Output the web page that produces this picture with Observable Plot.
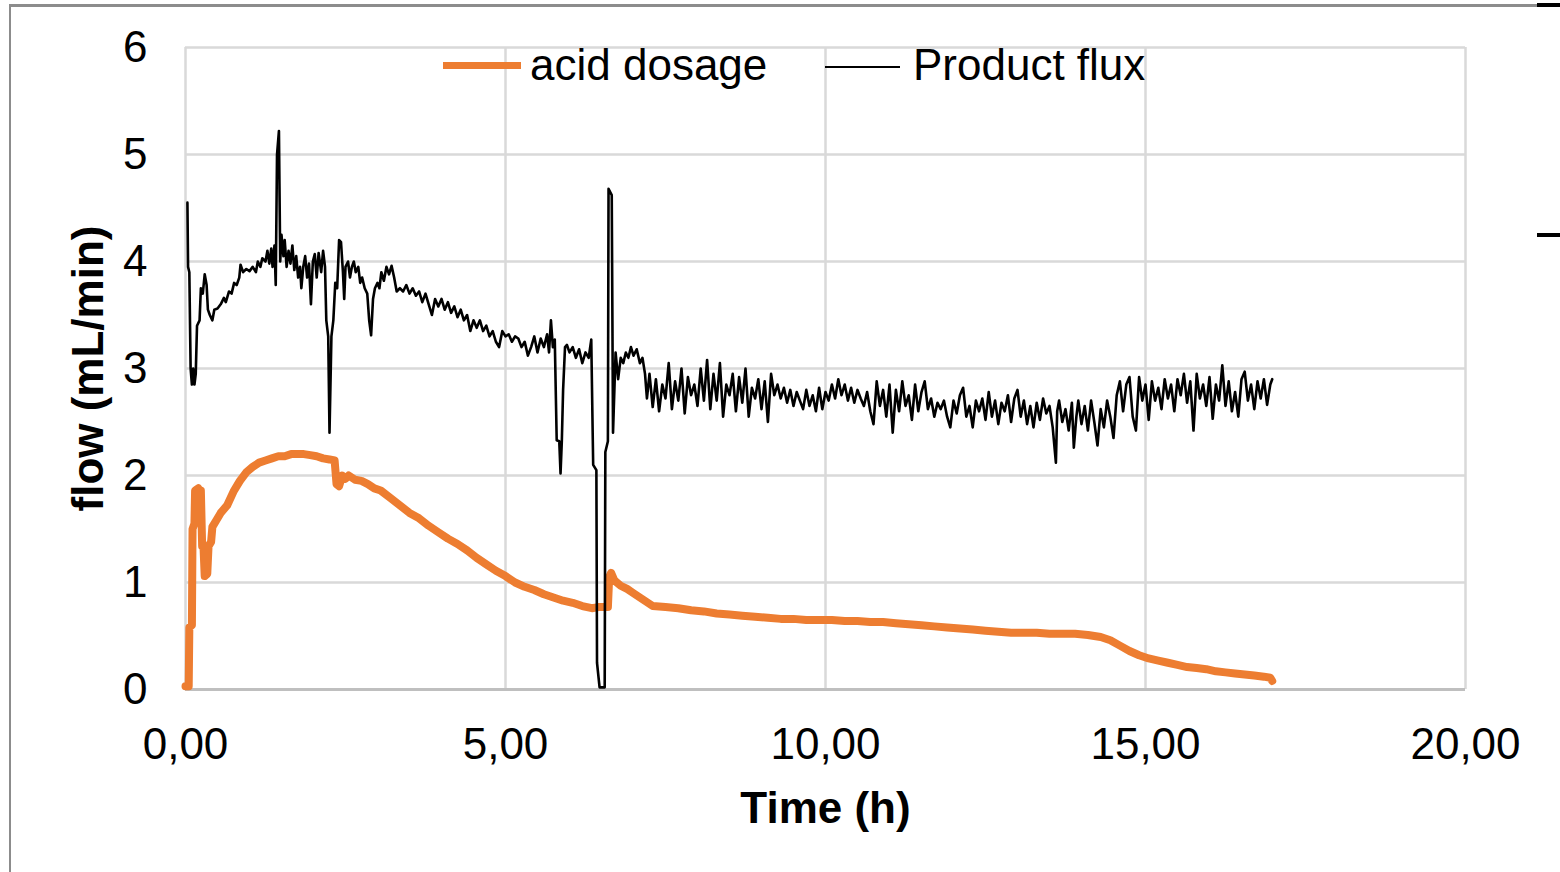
<!DOCTYPE html>
<html>
<head>
<meta charset="utf-8">
<script src="https://cdn.jsdelivr.net/npm/d3@7"></script>
<script src="https://cdn.jsdelivr.net/npm/@observablehq/plot@0.6"></script>
<style>
  html, body { margin: 0; padding: 0; background: #fff; }
  #wrap { position: relative; width: 1560px; height: 872px; overflow: hidden; background: #fff;
          font-family: "Liberation Sans", Arial, sans-serif; }
  #chart { position: absolute; left: 0; top: 0; }
  .frameTop { position: absolute; left: 9px; top: 4px; width: 1528px; height: 3px; background: #8c8c8c; }
  .frameLeft { position: absolute; left: 9px; top: 4px; width: 2px; height: 868px; background: #8c8c8c; }
  .blk { position: absolute; left: 1537px; width: 23px; height: 4px; background: #000; }
  .legend { position: absolute; top: 0; left: 0; font-size: 44px; line-height: 44px; color: #000; white-space: nowrap; }
  .sw { position: absolute; }
  .lt { position: absolute; }
</style>
</head>
<body>
<div id="wrap">
  <div id="chart"></div>
  <div class="frameTop"></div>
  <div class="frameLeft"></div>
  <div class="blk" style="top:3px"></div>
  <div class="blk" style="top:233px"></div>
  <div class="legend" id="legend"></div>
</div>
<script>
// ---- data ----
const seriesNames = ["acid dosage", "Product flux"];
const seriesColors = ["#ed7d31", "#000000"];
const xTicks = [0, 5, 10, 15, 20];
const yTicks = [0, 1, 2, 3, 4, 5, 6];

const acidTime = [0.0,0.05,0.06,0.1,0.11,0.14,0.15,0.2,0.22,0.24,0.26,0.28,0.3,0.34,0.36,0.4,0.42,0.48,0.55,0.65,0.75,0.85,0.95,1.05,1.15,1.25,1.35,1.45,1.55,1.65,1.75,1.85,1.95,2.05,2.15,2.25,2.33,2.36,2.4,2.45,2.5,2.55,2.65,2.75,2.85,2.95,3.05,3.2,3.35,3.5,3.65,3.8,3.95,4.1,4.25,4.4,4.55,4.7,4.85,5.0,5.15,5.3,5.45,5.6,5.75,5.9,6.05,6.2,6.35,6.45,6.6,6.62,6.65,6.7,6.8,6.9,7.0,7.1,7.2,7.3,7.5,7.7,7.9,8.1,8.3,8.5,8.7,8.9,9.1,9.3,9.5,9.7,9.9,10.1,10.3,10.5,10.7,10.9,11.1,11.3,11.5,11.7,11.9,12.1,12.3,12.5,12.7,12.9,13.1,13.3,13.5,13.7,13.9,14.1,14.3,14.45,14.6,14.75,14.9,15.05,15.2,15.35,15.5,15.65,15.8,15.95,16.1,16.25,16.4,16.55,16.7,16.85,16.95,16.98];
const acidValue = [0.03,0.03,0.58,0.6,1.5,1.55,1.86,1.88,1.75,1.86,1.34,1.35,1.06,1.08,1.34,1.38,1.52,1.58,1.65,1.72,1.85,1.95,2.03,2.08,2.12,2.14,2.16,2.18,2.18,2.2,2.2,2.2,2.19,2.18,2.16,2.15,2.14,1.92,1.9,2.0,1.97,2.0,1.96,1.95,1.92,1.88,1.86,1.79,1.72,1.65,1.6,1.53,1.47,1.41,1.36,1.3,1.23,1.17,1.11,1.06,1.0,0.96,0.93,0.89,0.86,0.83,0.81,0.78,0.76,0.77,0.77,1.05,1.09,1.02,0.97,0.94,0.9,0.86,0.82,0.78,0.77,0.76,0.74,0.73,0.71,0.7,0.69,0.68,0.67,0.66,0.66,0.65,0.65,0.65,0.64,0.64,0.63,0.63,0.62,0.61,0.6,0.59,0.58,0.57,0.56,0.55,0.54,0.53,0.53,0.53,0.52,0.52,0.52,0.51,0.49,0.46,0.41,0.36,0.32,0.29,0.27,0.25,0.23,0.21,0.2,0.19,0.17,0.16,0.15,0.14,0.13,0.12,0.11,0.08];

const fluxTime = [0.03,0.04,0.06,0.08,0.1,0.12,0.14,0.16,0.18,0.22,0.24,0.27,0.3,0.33,0.35,0.38,0.42,0.45,0.5,0.55,0.6,0.63,0.68,0.72,0.76,0.8,0.84,0.86,0.9,0.95,1.0,1.05,1.1,1.13,1.17,1.2,1.25,1.28,1.31,1.34,1.36,1.39,1.41,1.43,1.46,1.48,1.5,1.53,1.55,1.58,1.61,1.64,1.67,1.7,1.73,1.76,1.79,1.81,1.84,1.87,1.9,1.93,1.96,1.99,2.02,2.05,2.08,2.12,2.15,2.18,2.2,2.23,2.25,2.28,2.31,2.34,2.37,2.4,2.43,2.46,2.48,2.5,2.54,2.57,2.6,2.63,2.66,2.7,2.73,2.76,2.8,2.84,2.87,2.9,2.93,2.96,3.0,3.03,3.06,3.1,3.14,3.18,3.22,3.26,3.3,3.35,3.4,3.45,3.5,3.55,3.6,3.65,3.7,3.75,3.8,3.85,3.9,3.95,4.0,4.05,4.1,4.15,4.2,4.25,4.3,4.35,4.4,4.45,4.5,4.55,4.6,4.65,4.7,4.75,4.8,4.85,4.9,4.95,5.0,5.05,5.1,5.15,5.2,5.25,5.3,5.35,5.4,5.45,5.5,5.55,5.6,5.65,5.68,5.71,5.74,5.77,5.8,5.84,5.86,5.88,5.9,5.93,5.96,6.0,6.05,6.1,6.15,6.2,6.25,6.3,6.34,6.37,6.42,6.43,6.47,6.55,6.56,6.6,6.61,6.66,6.68,6.72,6.76,6.8,6.84,6.88,6.92,6.96,7.0,7.05,7.1,7.14,7.18,7.21,
7.25,7.3,7.35,7.4,7.45,7.5,7.55,7.6,7.65,7.7,7.75,7.8,7.85,7.9,7.95,8.0,8.05,8.1,8.15,8.2,8.25,8.3,8.35,8.4,8.45,8.5,8.55,8.6,8.65,8.7,8.75,8.8,8.85,8.9,8.95,9.0,9.05,9.1,9.15,9.2,9.25,9.3,9.35,9.4,9.45,9.5,9.55,9.6,9.65,9.7,9.75,9.8,9.85,9.9,9.95,10.0,10.05,10.1,10.15,10.2,10.25,10.3,10.35,10.4,10.45,10.5,10.55,10.6,10.65,10.7,10.75,10.8,10.85,10.9,10.95,11.0,11.05,11.1,11.15,11.2,11.25,11.3,11.35,11.4,11.45,11.5,11.55,11.6,11.65,11.7,11.75,11.8,11.85,11.9,11.95,12.0,12.05,12.1,12.15,12.2,12.25,12.3,12.35,12.4,12.45,12.5,12.55,12.6,12.65,12.7,12.75,12.8,12.85,12.9,12.95,13.0,13.05,13.1,13.15,13.2,13.25,13.3,13.35,13.4,13.45,13.5,13.55,13.6,13.62,13.65,13.7,13.75,13.8,13.85,13.88,13.92,13.95,14.0,14.05,14.1,14.15,14.2,14.25,14.3,14.35,14.4,14.45,14.5,14.55,14.6,14.65,14.7,14.75,14.8,14.85,14.9,14.95,15.0,15.05,15.1,15.15,15.2,15.25,15.3,15.35,15.4,15.45,15.5,15.55,15.6,15.65,15.7,15.75,15.8,15.85,15.9,15.95,16.0,16.05,16.1,16.15,16.2,16.25,16.3,16.35,16.4,16.45,16.5,16.55,16.6,16.65,16.7,16.75,16.8,16.85,16.9,16.95,16.98];
const fluxValue = [4.55,3.95,3.9,3.0,2.85,3.0,2.85,2.95,3.4,3.45,3.75,3.7,3.88,3.78,3.55,3.5,3.45,3.55,3.56,3.6,3.66,3.62,3.72,3.7,3.8,3.78,3.85,3.97,3.9,3.93,3.91,3.95,3.9,4.0,3.95,4.03,4.0,4.1,3.98,4.12,3.95,4.15,3.78,5.0,5.22,4.0,4.25,4.05,4.2,3.95,4.1,3.98,4.15,3.92,4.05,3.85,3.95,3.75,3.95,4.05,3.85,3.98,3.6,4.0,4.07,3.85,4.08,3.9,4.1,3.95,3.45,3.3,2.4,3.3,3.45,3.8,3.75,4.2,4.18,3.9,3.65,3.95,4.0,3.85,3.95,4.0,3.9,3.95,3.8,3.85,3.75,3.7,3.45,3.31,3.65,3.75,3.8,3.75,3.9,3.82,3.95,3.88,3.96,3.85,3.72,3.75,3.72,3.78,3.7,3.75,3.68,3.72,3.62,3.7,3.6,3.5,3.65,3.58,3.65,3.55,3.62,3.52,3.58,3.48,3.55,3.45,3.5,3.35,3.45,3.38,3.45,3.35,3.4,3.3,3.35,3.25,3.2,3.35,3.3,3.32,3.25,3.3,3.28,3.2,3.25,3.12,3.2,3.3,3.15,3.28,3.2,3.32,3.15,3.45,3.2,3.27,2.33,2.32,2.02,2.32,2.8,3.2,3.22,3.15,3.2,3.1,3.18,3.05,3.15,3.1,3.27,2.1,2.05,0.25,0.02,0.02,2.22,2.32,4.68,4.62,2.4,3.15,2.9,3.1,3.05,3.15,3.1,3.2,3.12,3.18,3.05,3.1,2.95,2.72,
2.95,2.64,2.9,2.6,2.85,2.72,3.05,2.62,2.88,2.7,3.0,2.58,2.92,2.75,2.85,2.65,3.0,2.7,3.08,2.62,2.95,2.7,3.05,2.55,2.85,2.75,2.95,2.6,2.92,2.68,3.0,2.55,2.82,2.72,2.9,2.62,2.88,2.5,2.95,2.75,2.85,2.72,2.82,2.68,2.8,2.65,2.78,2.7,2.62,2.8,2.65,2.75,2.6,2.82,2.62,2.78,2.7,2.85,2.72,2.9,2.75,2.85,2.7,2.82,2.68,2.8,2.72,2.65,2.78,2.6,2.48,2.88,2.65,2.8,2.55,2.85,2.4,2.8,2.6,2.88,2.65,2.75,2.52,2.85,2.6,2.78,2.88,2.62,2.72,2.55,2.68,2.62,2.7,2.55,2.45,2.7,2.58,2.75,2.82,2.55,2.65,2.45,2.7,2.6,2.72,2.52,2.78,2.55,2.7,2.48,2.68,2.6,2.75,2.5,2.72,2.8,2.55,2.7,2.48,2.65,2.45,2.68,2.52,2.72,2.58,2.65,2.45,2.12,2.6,2.7,2.5,2.62,2.42,2.68,2.26,2.55,2.7,2.48,2.65,2.42,2.7,2.5,2.28,2.62,2.45,2.7,2.55,2.35,2.75,2.88,2.6,2.85,2.92,2.55,2.42,2.92,2.7,2.85,2.52,2.88,2.7,2.82,2.62,2.9,2.72,2.85,2.6,2.9,2.75,2.95,2.68,2.88,2.42,2.95,2.72,2.85,2.65,2.92,2.53,2.85,2.7,3.03,2.65,2.88,2.6,2.78,2.55,2.9,2.97,2.7,2.85,2.62,2.88,2.72,2.9,2.66,2.85,2.9];

// ---- build tables ----
const acid = acidTime.map((t, i) => ({t, v: acidValue[i]}));
const flux = fluxTime.map((t, i) => ({t, v: fluxValue[i]}));
const fmtX = d => d.toFixed(2).replace(".", ",");
const fmtY = d => String(d);

const chart = Plot.plot({
  width: 1560,
  height: 872,
  marginLeft: 185,
  marginRight: 95,
  marginTop: 47,
  marginBottom: 183,
  x: {domain: [0, 20]},
  y: {domain: [0, 6]},
  style: {fontFamily: "'Liberation Sans', Arial, sans-serif", fontSize: "44px", color: "#000", background: "transparent", overflow: "visible"},
  marks: [
    Plot.gridX({ticks: xTicks, stroke: "#d9d9d9", strokeOpacity: 1, strokeWidth: 2.5}),
    Plot.gridY({ticks: yTicks, stroke: "#d9d9d9", strokeOpacity: 1, strokeWidth: 2.5}),
    Plot.ruleY([0], {stroke: "#bfbfbf", strokeWidth: 3}),
    Plot.axisX({ticks: xTicks, tickSize: 0, tickPadding: 38, tickFormat: fmtX, label: null, fill: "#000"}),
    Plot.axisY({ticks: yTicks, tickSize: 0, tickPadding: 38, tickFormat: fmtY, label: null, fill: "#000"}),
    Plot.line(acid, {x: "t", y: "v", stroke: seriesColors[0], strokeWidth: 8}),
    Plot.line(flux, {x: "t", y: "v", stroke: seriesColors[1], strokeWidth: 2.6}),
    Plot.text(["Time (h)"], {text: d => d, frameAnchor: "bottom", lineAnchor: "middle", textAnchor: "middle", dy: 119, fontWeight: "bold", fill: "#000"}),
    Plot.text(["flow (mL/min)"], {text: d => d, frameAnchor: "left", textAnchor: "middle", lineAnchor: "middle", dx: -97, rotate: -90, fontWeight: "bold", fill: "#000"})
  ]
});
document.getElementById("chart").appendChild(chart);

// ---- legend (inside plot area, as in the reference) ----
const legend = document.getElementById("legend");
const legendItems = [
  {swLeft: 443, swTop: 62, swW: 78, swH: 7, textLeft: 530},
  {swLeft: 825, swTop: 66, swW: 75, swH: 2.4, textLeft: 913}
];
seriesNames.forEach((name, i) => {
  const it = legendItems[i];
  const sw = document.createElement("div");
  sw.className = "sw";
  Object.assign(sw.style, {left: it.swLeft + "px", top: it.swTop + "px", width: it.swW + "px", height: it.swH + "px", background: seriesColors[i]});
  legend.appendChild(sw);
  const tx = document.createElement("div");
  tx.className = "lt";
  tx.textContent = name;
  Object.assign(tx.style, {left: it.textLeft + "px", top: "43px"});
  legend.appendChild(tx);
});
</script>
</body>
</html>
